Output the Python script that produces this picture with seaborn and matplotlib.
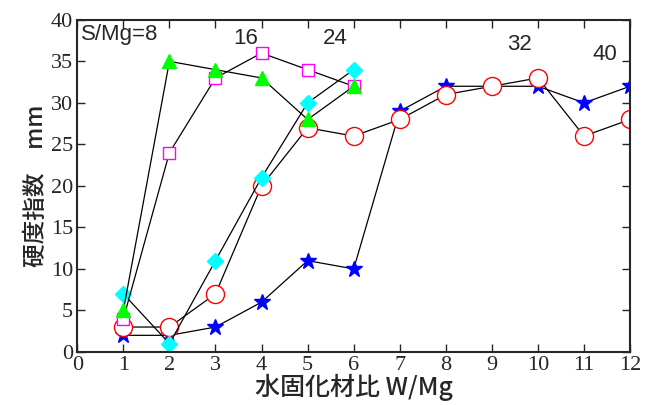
import numpy as np
import pandas as pd
import seaborn as sns
import matplotlib.pyplot as plt

sns.set_style("ticks")
plt.rcParams['font.family'] = ['Noto Sans CJK JP', 'DejaVu Sans']

# hardness index by water/solidifier ratio, one series per S/Mg
x_short = [1, 2, 3, 4, 5, 6]
x_long = [1, 2, 3, 4, 5, 6, 7, 8, 9, 10, 11, 12]
smg8 = [5, 35, 34, 33, 28, 32]
smg16 = [4, 24, 33, 36, 34, 32]
smg24 = [7, 1, 11, 21, 30, 34]
smg32 = [3, 3, 7, 20, 27, 26, 28, 31, 32, 33, 26, 28]
smg40 = [2, 2, 3, 6, 11, 10, 29, 32, 32, 32, 30, 32]
xticks = list(range(0, 13))
yticks = list(range(0, 41, 5))

fig, ax = plt.subplots(figsize=(6.55, 4.05), dpi=100)
fig.subplots_adjust(left=0.118, right=0.962, top=0.951, bottom=0.131)

styles = [
    (x_long, smg40, '*', 'blue', 'blue', 12),
    (x_long, smg32, 'o', 'white', 'red', 13),
    (x_short, smg24, 'D', 'cyan', 'cyan', 8),
    (x_short, smg16, 's', 'white', 'magenta', 9),
    (x_short, smg8, '^', 'lime', 'lime', 10),
]
for xs, ys, m, fc, ec, ms in styles:
    sns.lineplot(x=xs, y=ys, ax=ax, color='black', linewidth=0.9,
                 marker=m, markersize=ms, markerfacecolor=fc,
                 markeredgecolor=ec, markeredgewidth=1.0)

ax.set_xlim(0, 12)
ax.set_ylim(0, 40)
ax.set_xticks(xticks)
ax.set_xticklabels([str(v) for v in xticks], fontfamily='Liberation Serif', fontsize=16)
ax.set_yticks(yticks)
ax.set_yticklabels([str(v) for v in yticks], fontfamily='Liberation Serif', fontsize=16)
ax.tick_params(direction='in', top=True, right=True, length=6, width=1, pad=3)
for sp in ax.spines.values():
    sp.set_linewidth(1.5)

ax.set_xlabel('水固化材比 W/Mg', fontsize=18, fontweight='medium', labelpad=-1)
ax.set_ylabel('硬度指数　mm', fontsize=17, fontweight='medium', labelpad=2)

txt = dict(fontsize=16, family='Liberation Sans', va='center')
ax.text(0.08, 38.2, 'S/Mg=8', ha='left', **txt)
ax.text(3.65, 37.8, '16', ha='center', **txt)
ax.text(5.6, 37.8, '24', ha='center', **txt)
ax.text(9.6, 37.0, '32', ha='center', **txt)
ax.text(11.45, 35.8, '40', ha='center', **txt)

fig.savefig('out.png', dpi=100)
